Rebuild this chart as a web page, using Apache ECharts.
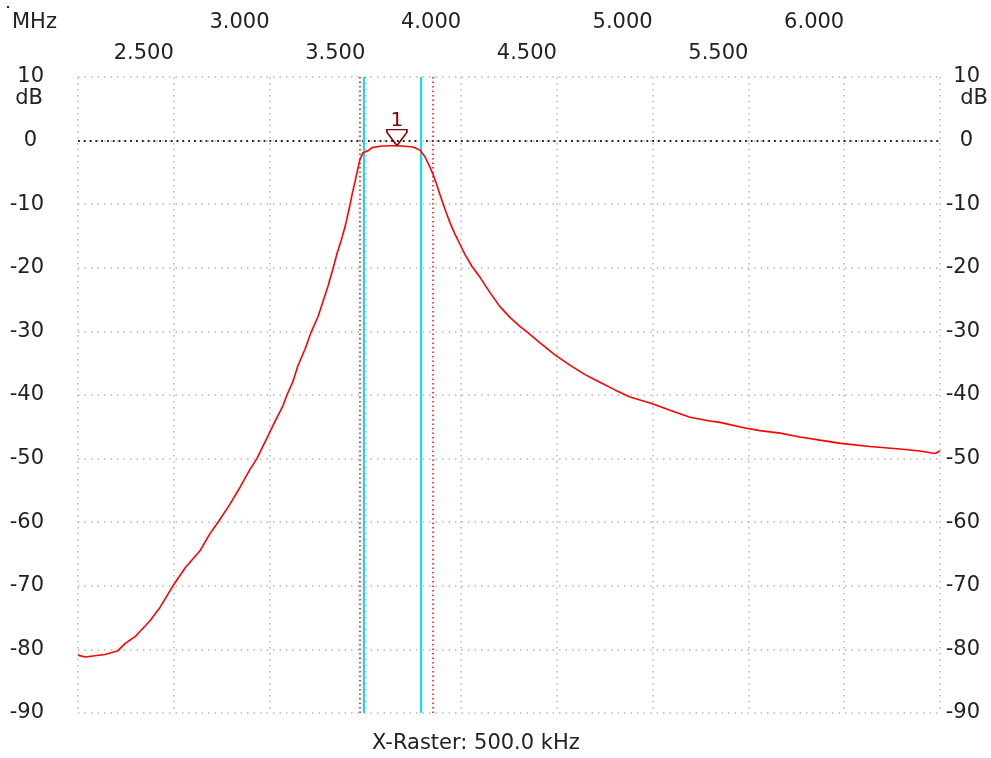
<!DOCTYPE html>
<html>
<head>
<meta charset="utf-8">
<script src="https://cdn.jsdelivr.net/npm/echarts@6/dist/echarts.min.js"></script>
<style>
html,body{margin:0;padding:0;background:#fff;}
#chart{width:991px;height:758px;}
</style>
</head>
<body>
<div id="chart"></div>
<script>
const freqMHz = [2.000,2.037,2.089,2.141,2.209,2.245,2.298,2.376,2.428,2.496,
  2.559,2.637,2.689,2.731,2.793,2.846,2.898,2.934,2.976,3.028,
  3.070,3.091,3.122,3.148,3.185,3.216,3.253,3.279,3.305,3.331,
  3.352,3.373,3.394,3.415,3.430,3.446,3.462,3.472,3.488,3.514,
  3.535,3.577,3.629,3.665,3.707,3.749,3.785,3.811,3.838,3.853,
  3.869,3.890,3.916,3.942,3.968,3.994,4.020,4.057,4.099,4.151,
  4.203,4.255,4.307,4.349,4.412,4.490,4.568,4.647,4.725,4.803,
  4.882,4.991,5.091,5.195,5.299,5.351,5.482,5.560,5.665,5.769,
  5.873,5.983,6.134,6.291,6.395,6.474,6.500];
const gainDb = [-80.9,-81.2,-81.0,-80.8,-80.2,-79.1,-78.0,-75.5,-73.4,-70.0,
  -67.2,-64.5,-61.8,-60.0,-57.2,-54.5,-51.7,-50.0,-47.4,-44.2,
  -41.7,-40.0,-37.9,-35.4,-32.8,-30.2,-27.7,-25.3,-22.9,-20.2,
  -17.8,-15.8,-13.6,-10.8,-8.6,-6.5,-4.3,-3.0,-1.9,-1.6,
  -1.1,-0.9,-0.8,-0.8,-0.9,-1.0,-1.5,-2.5,-4.2,-5.3,
  -6.6,-8.5,-10.8,-12.9,-14.7,-16.3,-17.9,-19.8,-21.5,-23.9,
  -26.1,-27.8,-29.2,-30.2,-31.8,-33.7,-35.3,-36.8,-38.0,-39.2,
  -40.3,-41.3,-42.4,-43.5,-44.1,-44.3,-45.2,-45.6,-46.0,-46.6,
  -47.1,-47.6,-48.1,-48.5,-48.8,-49.2,-48.8];
const cyanLinesMHz = [3.489, 3.794];
const redDottedMHz = [3.469, 3.846];
const marker1 = [3.665, -0.8];
const xMin = 2.0, xMax = 6.5, xStep = 0.5;
const yMin = -90, yMax = 10, yStep = 10;
const rasterText = 'X-Raster: 500.0 kHz';
const unitX = 'MHz', unitY = 'dB';

const FONT = 'DejaVu Sans';
const FS = 21;
const TXT = '#222';
const isInt = v => Math.abs(v - Math.round(v)) < 1e-6;
const yFmt = v => (Math.abs(v) < 1e-6 ? '{z|0}' : String(Math.round(v)));
const richZ = { z: { fontFamily: FONT, fontSize: FS, color: TXT, padding: [0, 7, 0, 0] } };

const chart = echarts.init(document.getElementById('chart'));
const xBase = {
  type: 'value', min: xMin, max: xMax, interval: xStep, position: 'top',
  axisLine: { show: false }, axisTick: { show: false }
};
chart.setOption({
  animation: false,
  backgroundColor: '#fff',
  grid: { left: 78, right: 51, top: 77, bottom: 45, containLabel: false },
  xAxis: [
    Object.assign({}, xBase, {
      splitLine: { show: true, lineStyle: { color: '#b8b8b8', width: 1.5, type: [1.5, 4.5] } },
      axisLabel: { formatter: v => (isInt(v) && v > xMin && v < xMax) ? v.toFixed(3) : '',
        align: 'right', verticalAlign: 'middle', margin: 54,
        fontFamily: FONT, fontSize: FS, color: TXT, showMinLabel: true, showMaxLabel: true }
    }),
    Object.assign({}, xBase, {
      splitLine: { show: false },
      axisLabel: { formatter: v => (!isInt(v) && v > xMin && v < xMax) ? v.toFixed(3) : '',
        align: 'right', verticalAlign: 'middle', margin: 23,
        fontFamily: FONT, fontSize: FS, color: TXT }
    })
  ],
  yAxis: [
    { type: 'value', min: yMin, max: yMax, interval: yStep, position: 'left',
      axisLine: { show: false }, axisTick: { show: false },
      splitLine: { show: true, lineStyle: { color: '#b8b8b8', width: 1.5, type: [1.5, 5] } },
      axisLabel: { formatter: yFmt, margin: 34, align: 'right', verticalAlign: 'middle',
        fontFamily: FONT, fontSize: FS, color: TXT, rich: richZ } },
    { type: 'value', min: yMin, max: yMax, interval: yStep, position: 'right',
      axisLine: { show: false }, axisTick: { show: false }, splitLine: { show: false },
      axisLabel: { formatter: yFmt, margin: 40, align: 'right', verticalAlign: 'middle',
        fontFamily: FONT, fontSize: FS, color: TXT, rich: richZ } }
  ],
  graphic: [
    { type: 'text', left: 12, top: 12, style: { text: unitX, font: FS + 'px "' + FONT + '"', fill: TXT } },
    { type: 'text', right: 948, top: 88, style: { text: unitY, font: FS + 'px "' + FONT + '"', fill: TXT } },
    { type: 'text', right: 3, top: 88, style: { text: unitY, font: FS + 'px "' + FONT + '"', fill: TXT } },
    { type: 'text', left: 372, top: 733, style: { text: rasterText, font: FS + 'px "' + FONT + '"', fill: TXT } },
    { type: 'rect', left: 7, top: 6, shape: { width: 2, height: 2 }, style: { fill: '#a00000' } }
  ],
  series: [{
    type: 'line',
    xAxisIndex: 0, yAxisIndex: 0,
    data: freqMHz.map((f, i) => [f, gainDb[i]]),
    showSymbol: false, symbol: 'none',
    lineStyle: { color: '#ff0000', width: 1.6 },
    z: 5,
    markLine: {
      silent: true, symbol: 'none', label: { show: false },
      data: [
        { yAxis: 0, lineStyle: { color: '#222', width: 1.8, type: [1.8, 4] } },
        ...redDottedMHz.map(f => ({ xAxis: f, lineStyle: { color: '#ff0000', width: 1.5, type: [1.5, 3] } })),
        ...cyanLinesMHz.map(f => ({ xAxis: f, lineStyle: { color: '#00e5ef', width: 2, type: 'solid' } }))
      ]
    },
    markPoint: {
      silent: true,
      data: [{ coord: marker1, name: '1' }],
      symbol: 'path://M0,0 L22,0 L22,3 L11,18 L0,3 Z',
      symbolSize: [20, 16],
      symbolOffset: [0, -8],
      itemStyle: { color: 'rgba(255,255,255,0)', borderColor: '#800000', borderWidth: 1.5 },
      label: { show: true, position: 'top', distance: -2, formatter: '1',
        fontFamily: FONT, fontSize: 20, color: '#800000' }
    }
  }]
});
</script>
</body>
</html>
